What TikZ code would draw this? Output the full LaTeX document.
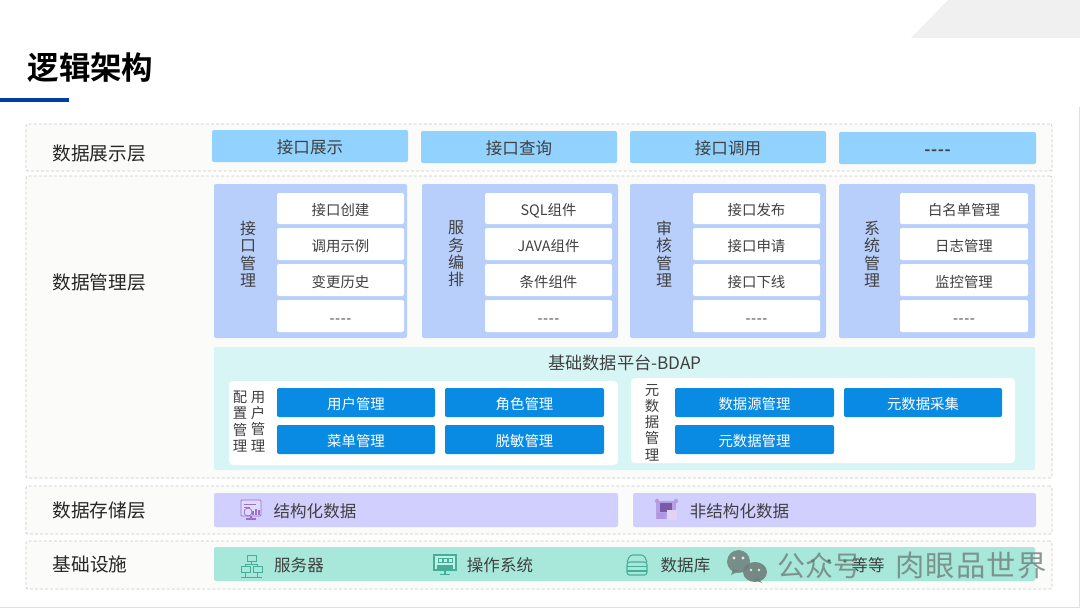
\documentclass[tikz,border=0pt]{standalone}
\usepackage{fontspec}
\setmainfont{Noto Sans CJK SC}[BoldFont={Noto Sans CJK SC Bold}]
\usetikzlibrary{shapes.geometric}
\definecolor{layerbg}{HTML}{FBFBF9}
\definecolor{dashc}{HTML}{C8C8C8}
\definecolor{skyb}{HTML}{91D2FF}
\definecolor{panelb}{HTML}{B8CFFC}
\definecolor{tealbg}{HTML}{D8F5F5}
\definecolor{btnb}{HTML}{0A8BE3}
\definecolor{purb}{HTML}{D0CFFD}
\definecolor{mint}{HTML}{A8E8DA}
\definecolor{txt}{HTML}{404040}
\definecolor{iconp}{HTML}{9B6FD0}
\definecolor{icont}{HTML}{45AE98}
\definecolor{barb}{HTML}{003DA5}
\definecolor{wm}{HTML}{6F7F7A}
\tikzset{
 x=0.75pt,y=-0.75pt,
 base/.style={inner sep=0pt,outer sep=0pt,rounded corners=1.5pt,text=txt,align=center},
 layer/.style={base,draw=dashc,dash pattern=on 2.2pt off 1.6pt,line width=0.5pt,fill=layerbg},
 topbox/.style={base,fill=skyb,font=\fontsize{12.4}{14}\selectfont},
 panel/.style={base,fill=panelb},
 cell/.style={base,fill=white,font=\fontsize{10.8}{13}\selectfont},
 tealbox/.style={base,fill=tealbg},
 subbox/.style={base,fill=white,rounded corners=3pt},
 btn/.style={base,fill=btnb,text=white,font=\fontsize{10.8}{13}\selectfont},
 pur/.style={base,fill=purb},
 mintbox/.style={base,fill=mint},
 lbl/.style={inner sep=0pt,text=txt},
 laylbl/.style={lbl,text=black!85,font=\fontsize{14}{16}\selectfont},
 itemlbl/.style={lbl,font=\fontsize{12.4}{14}\selectfont},
 vert/.style={lbl,align=center,font=\fontsize{12}{13.1}\selectfont},
 vertb/.style={lbl,align=center,font=\fontsize{10.8}{12.2}\selectfont},
 wmk/.style={inner sep=0pt,text=wm,text opacity=0.8,font=\fontsize{21}{24}\selectfont},
}
\newcommand\bx[7]{\node[#6,minimum width={(#4-#2)*0.75pt},minimum height={(#5-#3)*0.75pt}] (#1) at ({(#2+#4)/2},{(#3+#5)/2}) {\raisebox{-1.2pt}[0pt][0pt]{\raisebox{-0.38em}{#7}}};}
\newcommand\dsh{{-}\kern0.04em{-}\kern0.04em{-}\kern0.04em{-}}
\begin{document}
\begin{tikzpicture}
\useasboundingbox (0,0) rectangle (1080,608);
\fill[white] (0,0) rectangle (1080,608);
\fill[black!6] (948,0) -- (1080,0) -- (1080,38) -- (911,38) -- cycle;
\draw[black!12,line width=0.75pt] (0,607.5) -- (1079.5,607.5) -- (1079.5,107);
\node[inner sep=0pt,text=black,font=\bfseries\fontsize{23.6}{26}\selectfont] (title) at (90.5,67.5) {逻辑架构};
\fill[barb] (0,97.5) rectangle (69,101.5);
% layers
\bx{L1}{26}{124}{1052}{171}{layer}{}
\bx{L2}{26}{176}{1052}{478}{layer}{}
\bx{L3}{26}{486}{1052}{534}{layer}{}
\bx{L4}{26}{541}{1052}{589}{layer}{}
\node[laylbl] (l1) at (99,153) {数据展示层};
\node[laylbl] (l2) at (99,282) {数据管理层};
\node[laylbl] (l3) at (99,510) {数据存储层};
\node[laylbl] (l4) at (90,564) {基础设施};
% top
\bx{t1}{212}{130}{408}{162}{topbox}{接口展示}
\bx{t2}{421}{131}{617}{163}{topbox}{接口查询}
\bx{t3}{630}{131}{826}{163}{topbox}{接口调用}
\bx{t4}{839}{132}{1036}{164}{topbox}{\bfseries\dsh}
% panels
\bx{p1}{214}{184}{407}{338}{panel}{}
\bx{p2}{422}{184}{618}{338}{panel}{}
\bx{p3}{630}{184}{826}{338}{panel}{}
\bx{p4}{839}{184}{1035}{338}{panel}{}
\node[vert] (v1) at (248,254) {接\\口\\管\\理};
\node[vert] (v2) at (456,254) {服\\务\\编\\排};
\node[vert] (v3) at (664,254) {审\\核\\管\\理};
\node[vert] (v4) at (872,254) {系\\统\\管\\理};
\bx{a1}{277}{193}{404}{224}{cell}{接口创建}
\bx{a2}{277}{228}{404}{260}{cell}{调用示例}
\bx{a3}{277}{264}{404}{296}{cell}{变更历史}
\bx{a4}{277}{300}{404}{332}{cell}{\dsh}
\bx{b1}{485}{193}{612}{224}{cell}{SQL组件}
\bx{b2}{485}{228}{612}{260}{cell}{JAVA组件}
\bx{b3}{485}{264}{612}{296}{cell}{条件组件}
\bx{b4}{485}{300}{612}{332}{cell}{\dsh}
\bx{c1}{693}{193}{820}{224}{cell}{接口发布}
\bx{c2}{693}{228}{820}{260}{cell}{接口申请}
\bx{c3}{693}{264}{820}{296}{cell}{接口下线}
\bx{c4}{693}{300}{820}{332}{cell}{\dsh}
\bx{d1}{900}{193}{1028}{224}{cell}{白名单管理}
\bx{d2}{900}{228}{1028}{260}{cell}{日志管理}
\bx{d3}{900}{264}{1028}{296}{cell}{监控管理}
\bx{d4}{900}{300}{1028}{332}{cell}{\dsh}
% BDAP
\bx{bd}{214}{347}{1035}{470}{tealbox}{}
\node[lbl,font=\fontsize{12.9}{14}\selectfont] (bdt) at (625,363) {基础数据平台-BDAP};
\bx{s1}{229}{381}{618}{465}{subbox}{}
\bx{s2}{631}{378}{1015}{463}{subbox}{}
\node[vertb] (v5) at (240,421.5) {配\\置\\管\\理};
\node[vertb] (v6) at (258,421.5) {用\\户\\管\\理};
\node[lbl,align=center,font=\fontsize{10.8}{12.2}\selectfont] (v7) at (652,422.5) {元\\数\\据\\管\\理};
\bx{e1}{277}{388}{435}{417}{btn}{用户管理}
\bx{e2}{445}{388}{604}{417}{btn}{角色管理}
\bx{e3}{277}{425}{435}{454}{btn}{菜单管理}
\bx{e4}{445}{425}{604}{454}{btn}{脱敏管理}
\bx{f1}{675}{388}{834}{417}{btn}{数据源管理}
\bx{f2}{844}{388}{1002}{417}{btn}{元数据采集}
\bx{f3}{675}{425}{834}{454}{btn}{元数据管理}
% storage
\bx{g1}{214}{493}{618}{527}{pur}{}
\bx{g2}{633}{493}{1036}{527}{pur}{}
\node[itemlbl] (g1t) at (315,511) {结构化数据};
\node[itemlbl] (g2t) at (739.5,511) {非结构化数据};
% icon structured
\draw[iconp,line width=0.7pt,fill=purb!70!white,rounded corners=0.8pt] (241,500) rectangle (261,516);
\draw[iconp,line width=0.6pt] (244,504) -- (256,504) (244,507) -- (250,507);
\draw[iconp,line width=0.6pt] (248,512) circle[radius=3pt];
\draw[iconp,line width=0.8pt] (253,515) -- (253,511) (256,515) -- (256,509) (259,515) -- (259,510);
\draw[iconp,line width=0.9pt] (246,519) -- (256,519) (251,516) -- (251,519);
% icon unstructured
\fill[iconp!50!purb] (656,501) rectangle (676,519);
\fill[iconp!80!black] (660,503) rectangle (672,512);
\fill[iconp!60!purb] (657,513) rectangle (665,519);
\fill[iconp!30!white] (667,510) rectangle (677,520);
\fill[iconp!70!white] (657,501) circle[radius=1.6pt] (676,501) circle[radius=1.6pt];
% infra
\bx{h}{214}{547}{1035}{581}{mintbox}{}
\node[itemlbl] (h1) at (299,565) {服务器};
\node[itemlbl] (h2) at (500,565) {操作系统};
\node[itemlbl] (h3) at (685.5,565) {数据库};
\node[itemlbl] (h4) at (868,565) {等等};
\node[inner sep=0pt,text=icont!70!black,font=\fontsize{12}{14}\selectfont] (h5) at (829,564) {···};
% icon server
\draw[icont,line width=0.7pt] (247,555) rectangle (256,561) (241,566) rectangle (250,572) (253,566) rectangle (262,572);
\draw[icont,line width=0.7pt] (251.5,561) -- (251.5,564) (245.5,566) -- (245.5,564) -- (257.5,564) -- (257.5,566) (245.5,572) -- (245.5,578) (257.5,572) -- (257.5,578) (241,577) -- (262,577);
% icon os
\draw[icont,line width=0.8pt,fill=mint!70!white] (434,555) rectangle (456,570);
\fill[icont] (437,565) rectangle (453,570);
\draw[icont,line width=0.6pt] (438,558) rectangle (442,562) (443,558) rectangle (447,562) (448,558) rectangle (452,562);
\draw[icont,line width=0.8pt] (445,570) -- (445,574) (440,574.5) -- (450,574.5);
% icon db
\draw[icont,line width=0.8pt,rounded corners=2pt] (627,562) -- (630,555) -- (644,555) -- (647,562) (627,562) rectangle (647,575);
\draw[icont,line width=0.8pt] (627,566.5) -- (647,566.5) (627,571) -- (647,571);
% watermark
\fill[wm,opacity=0.85] (738.5,561.5) ellipse[x radius=8.6pt,y radius=8.6pt];
\fill[wm,opacity=0.9] (755,572) ellipse[x radius=9pt,y radius=7.5pt];
\fill[wm,opacity=0.85] (733,569) -- (731,575) -- (739,571) -- cycle;
\fill[wm,opacity=0.9] (758,578) -- (762,583) -- (753,579) -- cycle;
\fill[white,opacity=0.8] (734,558) circle[radius=1.2pt] (743,558) circle[radius=1.2pt] (751,570) circle[radius=1pt] (759,570) circle[radius=1pt];
\node[wmk] (w1) at (819,566) {公众号};
\node[wmk,font=\fontsize{22}{24}\selectfont] (w2) at (971,565) {\addfontfeature{LetterSpace=4}肉眼品世界};
\end{tikzpicture}
\end{document}
